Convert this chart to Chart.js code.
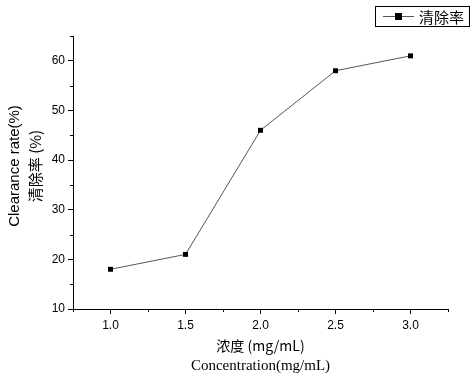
<!DOCTYPE html>
<html>
<head>
<meta charset="utf-8">
<script src="https://cdn.jsdelivr.net/npm/chart.js@4/dist/chart.umd.min.js"></script>
<style>
  html, body { margin: 0; padding: 0; background: #fff; }
  canvas { display: block; }
</style>
</head>
<body>
<canvas id="grafico" width="472" height="378"></canvas>
<script>
// datos
const concentraciones = [1.0, 1.5, 2.0, 2.5, 3.0];
const clearance = [18, 21, 46, 58, 61];
const ticksX = [1.0, 1.5, 2.0, 2.5, 3.0];
const ticksXMenores = [0.75, 1.25, 1.75, 2.25, 2.75, 3.25];
const ticksY = [10, 20, 30, 40, 50, 60];
const ticksYMenores = [15, 25, 35, 45, 55, 65];
const nombreSerie = "清除率";

const serif = "'Liberation Serif', 'Times New Roman', serif";
const sans = "'Liberation Sans', Arial, sans-serif";
const cjk = "'Noto Sans CJK SC', sans-serif";

// ticks menores, titulos de ejes y leyenda
const extras = {
    id: "extras",
    afterDraw(chart) {
        const ctx = chart.ctx;
        const { x, y } = chart.scales;
        const area = chart.chartArea;
        ctx.save();
        ctx.strokeStyle = "#000";
        ctx.lineWidth = 1;
        ctx.beginPath();
        ticksXMenores.forEach(v => {
            const px = Math.round(x.getPixelForValue(v)) + 0.5;
            ctx.moveTo(px, area.bottom);
            ctx.lineTo(px, area.bottom + 3);
        });
        ticksYMenores.forEach(v => {
            const py = Math.round(y.getPixelForValue(v)) + 0.5;
            ctx.moveTo(area.left, py);
            ctx.lineTo(area.left - 3, py);
        });
        ctx.stroke();

        // titulo eje X
        const cx = (area.left + area.right) / 2;
        ctx.fillStyle = "#000";
        ctx.textAlign = "center";
        ctx.textBaseline = "middle";
        ctx.font = "14px " + cjk;
        ctx.fillText("浓度 (mg/mL)", cx, 346);
        ctx.font = "15px " + serif;
        ctx.fillText("Concentration(mg/mL)", cx, 366);

        // titulo eje Y
        ctx.save();
        ctx.translate(15, 166);
        ctx.rotate(-Math.PI / 2);
        ctx.font = "15px " + sans;
        ctx.fillText("Clearance rate(%)", 0, 0);
        ctx.restore();
        ctx.save();
        ctx.translate(35, 166);
        ctx.rotate(-Math.PI / 2);
        ctx.font = "15px " + cjk;
        ctx.fillText("清除率 (%)", 0, 0);
        ctx.restore();

        // leyenda
        ctx.strokeStyle = "#000";
        ctx.strokeRect(375.5, 6.5, 94, 20);
        ctx.strokeStyle = "#555";
        ctx.beginPath();
        ctx.moveTo(383, 16.5);
        ctx.lineTo(414, 16.5);
        ctx.stroke();
        ctx.fillStyle = "#000";
        ctx.fillRect(395, 13, 7, 7);
        ctx.textAlign = "left";
        ctx.font = "15px " + cjk;
        ctx.fillText(nombreSerie, 419, 17);
        ctx.restore();
    }
};

new Chart(document.getElementById("grafico").getContext("2d"), {
    type: "line",
    data: {
        datasets: [{
            label: nombreSerie,
            data: concentraciones.map((c, i) => ({ x: c, y: clearance[i] })),
            borderColor: "#555",
            borderWidth: 1,
            pointStyle: "rect",
            pointRadius: 3.5,
            pointBackgroundColor: "#000",
            pointBorderColor: "#000",
            pointBorderWidth: 0,
            tension: 0
        }]
    },
    options: {
        responsive: false,
        animation: false,
        layout: { padding: { top: 36, right: 24, left: 0, bottom: 0 } },
        plugins: { legend: { display: false }, tooltip: { enabled: false } },
        scales: {
            x: {
                type: "linear",
                min: 0.75,
                max: 3.25,
                afterBuildTicks: s => { s.ticks = ticksX.map(v => ({ value: v })); },
                afterFit: s => { s.height = 69; },
                border: { display: true, color: "#000", width: 1 },
                grid: { drawOnChartArea: false, drawTicks: true, tickLength: 5, color: "#000" },
                ticks: {
                    color: "#000",
                    font: { family: sans, size: 12 },
                    padding: 4,
                    callback: v => v.toFixed(1)
                }
            },
            y: {
                min: 10,
                max: 65,
                afterBuildTicks: s => { s.ticks = ticksY.map(v => ({ value: v })); },
                afterFit: s => { s.width = 73; },
                border: { display: true, color: "#000", width: 1 },
                grid: { drawOnChartArea: false, drawTicks: true, tickLength: 5, color: "#000" },
                ticks: {
                    color: "#000",
                    font: { family: sans, size: 12 },
                    padding: 3
                }
            }
        }
    },
    plugins: [extras]
});
</script>
</body>
</html>
